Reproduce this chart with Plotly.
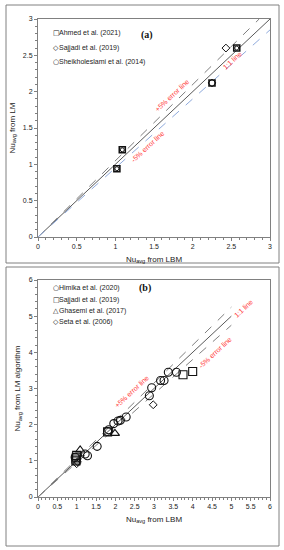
import plotly.graph_objects as go

# ---------------- Panel (a) data ----------------
a_ahmed_x = [1.02, 1.09, 2.25, 2.57]
a_ahmed_y = [0.94, 1.20, 2.12, 2.60]
a_sajjadi_x = [2.25, 2.43]
a_sajjadi_y = [2.12, 2.60]
a_sheik_x = [1.02, 1.09, 2.57]
a_sheik_y = [0.94, 1.20, 2.60]

a_line_x = [0, 3]
a_line_y = [0, 3]
a_plus_x = [0, 2.86]
a_plus_y = [0, 3.0]
a_minus_x = [0, 3]
a_minus_y = [0, 2.85]

# ---------------- Panel (b) data ----------------
b_himika_x = [0.96, 1.22, 1.28, 1.53, 1.80, 1.83, 1.96, 2.07, 2.13, 2.28, 2.88, 2.94, 3.17, 3.26, 3.37, 3.58]
b_himika_y = [1.10, 1.19, 1.14, 1.40, 1.81, 1.86, 2.03, 2.10, 2.12, 2.21, 2.80, 3.02, 3.22, 3.22, 3.45, 3.45]
b_sajjadi_x = [0.98, 0.98, 0.99, 1.00, 1.80, 3.75, 4.00]
b_sajjadi_y = [1.00, 1.05, 1.10, 1.15, 1.80, 3.38, 3.47]
b_ghasemi_x = [1.09, 1.99]
b_ghasemi_y = [1.30, 1.76]
b_seta_x = [1.00, 1.02, 2.98]
b_seta_y = [0.92, 0.97, 2.55]

b_line_x = [0, 5]
b_line_y = [0, 5]
b_plus_x = [0, 5]
b_plus_y = [0, 5.25]
b_minus_x = [0, 5]
b_minus_y = [0, 4.75]

a_ticks = [0, 0.5, 1, 1.5, 2, 2.5, 3]
a_ticklabels = ["0", "0.5", "1", "1.5", "2", "2.5", "3"]
b_xticks = [0, 0.5, 1, 1.5, 2, 2.5, 3, 3.5, 4, 4.5, 5, 5.5, 6]
b_xticklabels = ["0", "0.5", "1", "1.5", "2", "2.5", "3", "3.5", "4", "4.5", "5", "5.5", "6"]
b_yticks = [0, 1, 2, 3, 4, 5, 6]
b_yticklabels = ["0", "1", "2", "3", "4", "5", "6"]

W, H = 284, 550
FONT = "Liberation Sans"
GRAY = "#808080"
RED = "#ff3b3b"

fig = go.Figure()

def line(x, y, color, dash, xa, ya, width=1):
    fig.add_trace(go.Scatter(x=x, y=y, mode="lines", xaxis=xa, yaxis=ya,
                             line=dict(color=color, dash=dash, width=width),
                             showlegend=False, hoverinfo="skip"))

def pts(x, y, symbol, size, xa, ya, name, lw=1.2, fill="rgba(255,255,255,0)"):
    fig.add_trace(go.Scatter(x=x, y=y, mode="markers", xaxis=xa, yaxis=ya, name=name,
                             marker=dict(symbol=symbol, size=size, color=fill,
                                         line=dict(color="#111111", width=lw)),
                             showlegend=False))

# panel a
line(a_line_x, a_line_y, "#595959", "solid", "x", "y")
line(a_plus_x, a_plus_y, "#7f7f7f", "dash", "x", "y")
line(a_minus_x, a_minus_y, "#8faadc", "dash", "x", "y")
pts(a_ahmed_x, a_ahmed_y, "square", 6, "x", "y", "Ahmed et al. (2021)", 1.6, "white")
pts(a_sajjadi_x, a_sajjadi_y, "diamond", 6, "x", "y", "Sajjadi et al. (2019)", 1.0)
pts(a_sheik_x, a_sheik_y, "circle", 4, "x", "y", "Sheikholeslami et al. (2014)", 1.0)

# panel b
line(b_line_x, b_line_y, "#595959", "solid", "x2", "y2")
line(b_plus_x, b_plus_y, "#7f7f7f", "dash", "x2", "y2")
line(b_minus_x, b_minus_y, "#7f7f7f", "dash", "x2", "y2")
pts(b_himika_x, b_himika_y, "circle", 8, "x2", "y2", "Himika et al. (2020)", 1.1)
pts(b_sajjadi_x, b_sajjadi_y, "square", 8, "x2", "y2", "Sajjadi et al. (2019)", 1.1)
pts(b_ghasemi_x, b_ghasemi_y, "triangle-up", 8, "x2", "y2", "Ghasemi et al. (2017)", 1.1)
pts(b_seta_x, b_seta_y, "diamond", 6, "x2", "y2", "Seta et al. (2006)", 1.0)

xdom = [38 / W, 270 / W]
ydom_a = [1 - 237 / H, 1 - 19 / H]
ydom_b = [1 - 497 / H, 1 - 280 / H]

def ax(rng, tv, tt, dtick_minor, domain, title, anchor, standoff):
    return dict(range=rng, domain=domain, anchor=anchor, tickvals=tv, ticktext=tt,
                automargin=False,
                showline=True, linecolor=GRAY, linewidth=1, mirror=True,
                ticks="outside", ticklen=3, tickcolor=GRAY, tickwidth=1,
                minor=dict(dtick=dtick_minor, ticks="outside", ticklen=2, tickcolor=GRAY),
                showgrid=False, zeroline=False,
                tickfont=dict(size=7, family=FONT, color="#222222"),
                title=dict(text=title, font=dict(size=8, family=FONT, color="#222222"), standoff=standoff))

fig.update_layout(
    width=W, height=H, margin=dict(l=0, r=0, t=0, b=0, autoexpand=False),
    paper_bgcolor="white", plot_bgcolor="white", showlegend=False,
    xaxis=ax([0, 3], a_ticks, a_ticklabels, 0.1, xdom, "Nu<sub>avg</sub> from LBM", "y", 6),
    yaxis=ax([0, 3], a_ticks, a_ticklabels, 0.1, ydom_a, "Nu<sub>avg</sub> from LM", "x", 6),
    xaxis2=ax([0, 6], b_xticks, b_xticklabels, 0.1, xdom, "Nu<sub>avg</sub> from LBM", "y2", 6),
    yaxis2=ax([0, 6], b_yticks, b_yticklabels, 0.2, ydom_b, "Nu<sub>avg</sub> from LM algorithm", "x2", 6),
)

# outer panel frames
fig.add_shape(type="rect", xref="paper", yref="paper", x0=6 / W, x1=279 / W,
              y0=1 - 263 / H, y1=1 - 5 / H, line=dict(color=GRAY, width=1))
fig.add_shape(type="rect", xref="paper", yref="paper", x0=6 / W, x1=279 / W,
              y0=1 - 546 / H, y1=1 - 267 / H, line=dict(color=GRAY, width=1))

def ann(x, y, text, xref, yref, **kw):
    fig.add_annotation(x=x, y=y, xref=xref, yref=yref, text=text, showarrow=False, **kw)

# panel labels
ann(147 / W, 1 - 27 / H, "<b>(a)</b>", "paper", "paper",
    font=dict(family="Liberation Serif", size=10, color="#111"))
ann(145 / W, 1 - 288 / H, "<b>(b)</b>", "paper", "paper",
    font=dict(family="Liberation Serif", size=10, color="#111"))

# line labels
rf = dict(family=FONT, size=7, color=RED)
ann(1.73, 1.95, "+5% error line", "x", "y", textangle=-43, font=rf)
ann(1.42, 1.24, "-5% error line", "x", "y", textangle=-43, font=rf)
ann(2.51, 2.43, "1:1 line", "x", "y", textangle=-43, font=rf)
ann(2.43, 2.91, "+5% error line", "x2", "y2", textangle=-43, font=rf)
ann(4.58, 4.00, "-5% error line", "x2", "y2", textangle=-43, font=rf)
ann(5.31, 5.22, "1:1 line", "x2", "y2", textangle=-43, font=rf)

# legends (symbol + text)
leg_a = [("□", "Ahmed et al. (2021)", 28), ("◇", "Sajjadi et al. (2019)", 43), ("○", "Sheikholeslami et al. (2014)", 57)]
leg_b = [("○", "Himika et al. (2020)", 288), ("□", "Sajjadi et al. (2019)", 299.5), ("△", "Ghasemi et al. (2017)", 311), ("◇", "Seta et al. (2006)", 322.5)]
lf = dict(family=FONT, size=7, color="#222")
sf = dict(family="DejaVu Sans", size=7, color="#111")
for sym, txt, yp in leg_a + leg_b:
    ann(51.5 / W, 1 - yp / H, sym, "paper", "paper", font=sf, borderpad=0)
    ann(57.5 / W, 1 - yp / H, txt, "paper", "paper", xanchor="left", font=lf, borderpad=0)

fig.write_html("out.html", config={"displayModeBar": False},
               post_script="document.body.style.margin='0px';")
